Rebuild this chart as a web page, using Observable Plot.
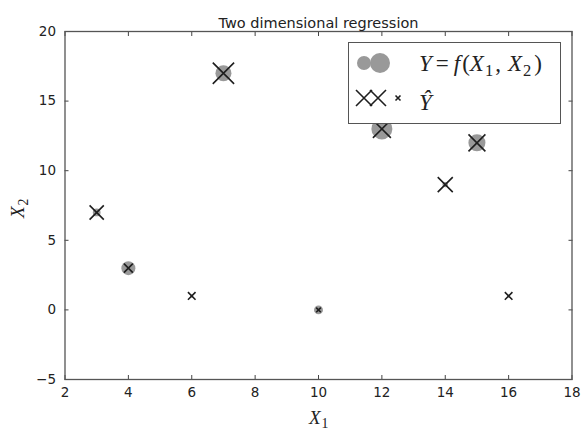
<!DOCTYPE html>
<html><head><meta charset="utf-8">
<script src="https://cdn.jsdelivr.net/npm/d3@7"></script>
<script src="https://cdn.jsdelivr.net/npm/@observablehq/plot@0.6"></script>
<style>
body{margin:0;background:#fff;}
#wrap{position:relative;width:584px;height:432px;font-family:"DejaVu Sans",sans-serif;}
.math{position:absolute;font-family:"Liberation Serif","DejaVu Serif",serif;font-style:italic;color:#222;white-space:nowrap;line-height:1;}
.math sub{font-style:normal;font-size:72%;vertical-align:-0.28em;margin-left:1px;}
.math .up{font-style:normal;}
#legend{position:absolute;left:348px;top:42px;width:211px;height:80px;border:1px solid #555;background:#fff;}
</style></head><body><div id="wrap"></div>
<script>
const x1 = [3, 4, 6, 7, 10, 12, 14, 15, 16];
const x2 = [7, 3, 1, 17, 0, 13, 9, 12, 1];
const yTrue = [3, 9.8, 0.5, 12.8, 4, 22, 1.5, 14.5, 0.5];
const yHat = [8.5, 3.4, 2.5, 19, 1, 13.5, 9.5, 12, 2.5];
const xTicks = [2, 4, 6, 8, 10, 12, 14, 16, 18];
const yTicks = [-5, 0, 5, 10, 15, 20];
const title = "Two dimensional regression";

const data = x1.map((v, i) => ({x1: v, x2: x2[i], y: yTrue[i], yhat: yHat[i]}));
const fmt = d => d < 0 ? "\u2212" + Math.abs(d) : String(d);
const blank = () => "";

const plot = Plot.plot({
  width: 584, height: 432,
  marginLeft: 64.5, marginRight: 12.5, marginTop: 31, marginBottom: 53,
  style: {fontFamily: "DejaVu Sans, sans-serif", fontSize: "13.5px", color: "#222", background: "#fff"},
  x: {domain: [2, 18]},
  y: {domain: [-5, 20]},
  r: {type: "sqrt", domain: [0, 20], range: [0, 10]},
  marks: [
    Plot.axisX(xTicks, {anchor: "bottom", tickSize: -4, tickPadding: 12, tickFormat: fmt, label: null, stroke: "#444"}),
    Plot.axisX(xTicks, {anchor: "top", tickSize: -4, tickFormat: blank, label: null, stroke: "#444"}),
    Plot.axisY(yTicks, {anchor: "left", tickSize: -4, tickPadding: 13, tickFormat: fmt, label: null, stroke: "#444"}),
    Plot.axisY(yTicks, {anchor: "right", tickSize: -4, tickFormat: blank, label: null, stroke: "#444"}),
    Plot.dot(data, {x: "x1", y: "x2", r: "y", fill: "#999", stroke: "none"}),
    Plot.dot(data, {x: "x1", y: "x2", r: "yhat", symbol: "times", stroke: "#1e1e1e", strokeWidth: 1.6}),
    Plot.frame({stroke: "#555", strokeWidth: 1.3}),
    Plot.text([title], {text: d => d, frameAnchor: "top", dy: -14, fontSize: 14.5, fill: "#222"})
  ]
});

const wrap = document.getElementById("wrap");
wrap.appendChild(plot);

// legend
const legend = document.createElement("div");
legend.id = "legend";
legend.innerHTML = `
<svg width="211" height="80" style="position:absolute;left:0;top:0">
  <circle cx="15" cy="20" r="7" fill="#999"/>
  <circle cx="31" cy="20" r="10" fill="#999"/>
  <g stroke="#1e1e1e" stroke-width="1.6" fill="none">
    <path d="M7,47 L23,63 M7,63 L23,47"/>
    <path d="M21,47 L37,63 M21,63 L37,47"/>
    <path d="M46.5,52.5 L51.5,57.5 M46.5,57.5 L51.5,52.5"/>
  </g>
</svg>
<div class="math" style="left:70px;top:9px;font-size:23px"><i>Y</i><span class="up" style="margin:0 5px 0 4px">=</span><i>f</i><span class="up" style="margin-left:2px">(</span><i>X</i><sub>1</sub><span class="up" style="margin:0 7px 0 2px">,</span><i>X</i><sub>2</sub><span class="up" style="margin-left:3px">)</span></div>
<div class="math" style="left:70px;top:48px;font-size:23px">\u0176</div>`;
wrap.appendChild(legend);

const xl = document.createElement("div");
xl.className = "math";
xl.style.cssText = "left:309px;top:408px;font-size:19px";
xl.innerHTML = "X<sub>1</sub>";
wrap.appendChild(xl);

const yl = document.createElement("div");
yl.className = "math";
yl.style.cssText = "left:10px;top:197px;font-size:19px;transform:rotate(-90deg);transform-origin:center";
yl.innerHTML = "X<sub>2</sub>";
wrap.appendChild(yl);
</script></body></html>
